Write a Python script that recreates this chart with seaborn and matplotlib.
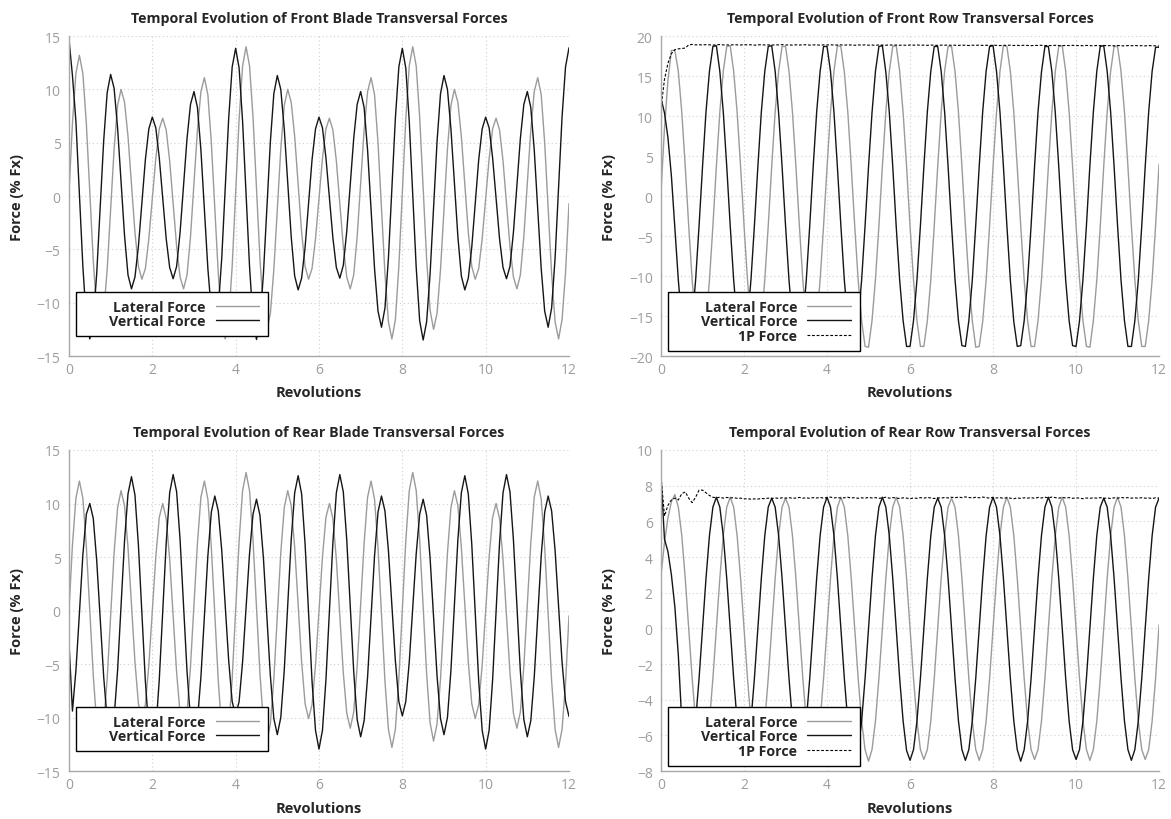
import numpy as np
import matplotlib
matplotlib.use("Agg")
import matplotlib.pyplot as plt
import seaborn as sns
from matplotlib.patches import Rectangle

# Force histories stored every 30 degrees of azimuth (12 samples per revolution)
SAMPLES_PER_REV = 12

front_blade_lateral = [
    0.3, 6.8, 11.5, 13.2,
    11.5, 6.8, 0.4, -6.1, -10.8, -12.5,
    -11.0, -6.9, -1.3, 4.4, 8.5, 10.0,
    8.8, 5.6, 1.1, -3.4, -6.6, -7.8,
    -6.8, -4.0, -0.3, 3.5, 6.3, 7.3,
    6.2, 3.3, -0.7, -4.7, -7.6, -8.7,
    -7.4, -3.8, 1.2, 6.2, 9.8, 11.1,
    9.5, 5.0, -1.2, -7.3, -11.8, -13.4,
    -11.6, -6.6, 0.3, 7.2, 12.2, 14.0,
    12.2, 7.4, 0.8, -5.9, -10.7, -12.5,
    -11.0, -6.9, -1.3, 4.4, 8.5, 10.0,
    8.8, 5.6, 1.1, -3.4, -6.6, -7.8,
    -6.8, -4.0, -0.3, 3.5, 6.3, 7.3,
    6.2, 3.3, -0.7, -4.7, -7.6, -8.7,
    -7.4, -3.8, 1.2, 6.2, 9.8, 11.1,
    9.5, 5.0, -1.2, -7.3, -11.8, -13.4,
    -11.6, -6.6, 0.3, 7.2, 12.2, 14.0,
    12.2, 7.4, 0.8, -5.9, -10.7, -12.5,
    -11.0, -6.9, -1.3, 4.4, 8.5, 10.0,
    8.8, 5.6, 1.1, -3.4, -6.6, -7.8,
    -6.8, -4.0, -0.3, 3.5, 6.3, 7.3,
    6.2, 3.3, -0.7, -4.7, -7.6, -8.7,
    -7.4, -3.8, 1.2, 6.2, 9.8, 11.1,
    9.5, 5.0, -1.2, -7.3, -11.8, -13.4,
    -11.6, -7.2, -0.7,
]

front_blade_vertical = [
    14.7, 11.3, 7.0, 0.2, -6.6, -11.6,
    -13.4, -11.7, -7.2, -1.0, 5.2, 9.7,
    11.4, 10.1, 6.4, 1.4, -3.7, -7.4,
    -8.7, -7.6, -4.7, -0.7, 3.4, 6.3,
    7.4, 6.4, 3.6, -0.2, -4.0, -6.7,
    -7.75, -6.6, -3.4, 1.0, 5.4, 8.6,
    9.8, 8.3, 4.3, -1.3, -6.8, -10.8,
    -12.3, -10.5, -5.8, 0.8, 7.3, 12.1,
    13.85, 12.0, 7.0, 0.2, -6.6, -11.6,
    -13.45, -11.8, -7.3, -1.1, 5.1, 9.6,
    11.3, 10.0, 6.3, 1.3, -3.8, -7.5,
    -8.8, -7.7, -4.8, -0.7, 3.4, 6.3,
    7.4, 6.4, 3.6, -0.2, -3.9, -6.7,
    -7.7, -6.5, -3.3, 1.1, 5.4, 8.6,
    9.8, 8.3, 4.3, -1.3, -6.8, -10.8,
    -12.3, -10.5, -5.8, 0.8, 7.3, 12.1,
    13.85, 12.0, 7.0, 0.2, -6.7, -11.7,
    -13.5, -11.8, -7.3, -1.1, 5.1, 9.6,
    11.3, 10.0, 6.3, 1.3, -3.8, -7.5,
    -8.8, -7.7, -4.8, -0.7, 3.4, 6.3,
    7.4, 6.4, 3.6, -0.2, -4.0, -6.7,
    -7.75, -6.6, -3.4, 1.0, 5.4, 8.6,
    9.8, 8.3, 4.3, -1.3, -6.8, -10.8,
    -12.3, -10.5, -5.8, 0.8, 7.4, 12.1,
    13.9,
]

front_row_lateral = [
    0.5, 8.5, 14.5, 18.2, 18.2,
    15.6, 10.5, 3.7, -3.7, -10.5, -15.6, -18.7, -18.8, -15.6, -10.5, -3.7, 3.7, 10.5, 15.6, 18.7,
    18.8, 15.6, 10.5, 3.7, -3.7, -10.5, -15.6, -18.8, -18.9, -15.6, -10.5, -3.7, 3.7, 10.5, 15.6, 18.7,
    18.7, 15.6, 10.5, 3.7, -3.7, -10.5, -15.7, -18.8, -18.8, -15.6, -10.5, -3.7, 3.6, 10.5, 15.6, 18.8,
    18.7, 15.5, 10.5, 3.7, -3.7, -10.5, -15.6, -18.8, -18.9, -15.6, -10.4, -3.7, 3.7, 10.5, 15.6, 18.7,
    18.8, 15.6, 10.4, 3.7, -3.8, -10.5, -15.6, -18.8, -18.8, -15.6, -10.5, -3.7, 3.7, 10.5, 15.6, 18.7,
    18.7, 15.6, 10.5, 3.7, -3.7, -10.5, -15.6, -18.9, -18.8, -15.7, -10.5, -3.7, 3.7, 10.4, 15.6, 18.8,
    18.7, 15.6, 10.5, 3.6, -3.7, -10.5, -15.6, -18.8, -18.8, -15.6, -10.5, -3.7, 3.7, 10.5, 15.6, 18.7,
    18.8, 15.6, 10.5, 3.7, -3.7, -10.4, -15.6, -18.8, -18.9, -15.6, -10.5, -3.8, 3.7, 10.5, 15.6, 18.7,
    18.7, 15.6, 10.5, 3.7, -3.7, -10.5, -15.6, -18.8, -18.8, -15.6, -10.5, -3.7, 4.0,
]

front_row_vertical = [
    12.2, 10.4, 7.3, 2.5, -3.9,
    -10.5, -15.6, -18.7, -18.8, -15.6, -10.5, -3.7, 3.7, 10.5, 15.6, 18.7,
    18.8, 15.6, 10.5, 3.7, -3.7, -10.5, -15.6, -18.7, -18.8, -15.6, -10.5, -3.7, 3.7, 10.5, 15.6, 18.7,
    18.8, 15.6, 10.4, 3.7, -3.7, -10.5, -15.6, -18.8, -18.8, -15.7, -10.5, -3.7, 3.7, 10.5, 15.6, 18.7,
    18.7, 15.6, 10.5, 3.6, -3.7, -10.5, -15.6, -18.7, -18.8, -15.6, -10.5, -3.7, 3.7, 10.4, 15.6, 18.7,
    18.8, 15.5, 10.5, 3.7, -3.8, -10.5, -15.6, -18.8, -18.8, -15.6, -10.5, -3.7, 3.7, 10.5, 15.6, 18.7,
    18.7, 15.6, 10.5, 3.7, -3.7, -10.4, -15.6, -18.7, -18.8, -15.6, -10.5, -3.6, 3.7, 10.5, 15.6, 18.7,
    18.8, 15.6, 10.5, 3.7, -3.7, -10.5, -15.7, -18.8, -18.7, -15.6, -10.5, -3.7, 3.7, 10.5, 15.5, 18.7,
    18.7, 15.6, 10.4, 3.7, -3.7, -10.5, -15.6, -18.7, -18.8, -15.6, -10.4, -3.7, 3.8, 10.5, 15.6, 18.7,
    18.8, 15.6, 10.5, 3.7, -3.7, -10.5, -15.6, -18.8, -18.8, -15.6, -10.5, -3.7, 3.7, 10.5, 15.6, 18.6,
    18.6,
]

front_row_1p = [
    11.0, 14.6, 16.6, 17.8, 18.3, 18.4, 18.45, 18.5, 18.9, 18.95,
    18.9, 18.92, 18.88, 18.93, 18.9, 18.87, 18.91, 18.94, 18.89, 18.9, 18.86, 18.92, 18.9, 18.88, 18.93,
    18.89, 18.91, 18.86, 18.9, 18.92, 18.88, 18.9, 18.87, 18.91, 18.89, 18.93, 18.88, 18.9, 18.86, 18.91,
    18.88, 18.9, 18.92, 18.87, 18.89, 18.91, 18.86, 18.9, 18.88, 18.92, 18.87, 18.89, 18.9, 18.86, 18.91,
    18.88, 18.85, 18.89, 18.87, 18.9, 18.86, 18.88, 18.84, 18.89, 18.87, 18.85, 18.9, 18.86, 18.88, 18.85,
    18.87, 18.84, 18.88, 18.86, 18.89, 18.85, 18.87, 18.84, 18.88, 18.86, 18.83, 18.87, 18.85, 18.88, 18.84,
    18.86, 18.83, 18.87, 18.85, 18.82, 18.86, 18.84, 18.87, 18.83, 18.85, 18.82, 18.86, 18.84, 18.81, 18.85,
    18.83, 18.86, 18.82, 18.84, 18.81, 18.85, 18.83, 18.8, 18.84, 18.82, 18.85, 18.81, 18.83, 18.8, 18.84,
    18.82, 18.79, 18.83, 18.81, 18.84, 18.8, 18.82, 18.79, 18.83, 18.81, 18.78, 18.82, 18.8, 18.83, 18.79,
    18.81, 18.78, 18.82, 18.8, 18.77, 18.81, 18.79, 18.82, 18.78, 18.8, 18.77, 18.81, 18.79, 18.78, 18.76,
]

rear_blade_lateral = [
    0.0, 6.1, 10.5, 12.1,
    10.5, 6.0, -0.1, -6.1, -10.6, -12.2,
    -10.6, -6.4, -0.5, 5.4, 9.6, 11.2,
    9.8, 5.9, 0.6, -4.8, -8.7, -10.1,
    -8.8, -5.1, -0.1, 5.0, 8.7, 10.0,
    8.6, 4.8, -0.5, -5.8, -9.6, -11.0,
    -9.5, -5.2, 0.6, 6.3, 10.6, 12.1,
    10.4, 5.9, -0.4, -6.6, -11.1, -12.8,
    -11.1, -6.4, 0.1, 6.5, 11.2, 12.9,
    11.2, 6.6, 0.4, -5.9, -10.5, -12.2,
    -10.6, -6.4, -0.5, 5.4, 9.6, 11.2,
    9.8, 5.9, 0.6, -4.8, -8.7, -10.1,
    -8.8, -5.1, -0.1, 5.0, 8.7, 10.0,
    8.6, 4.8, -0.5, -5.8, -9.6, -11.0,
    -9.5, -5.2, 0.6, 6.3, 10.6, 12.1,
    10.4, 5.9, -0.4, -6.6, -11.1, -12.8,
    -11.1, -6.4, 0.1, 6.5, 11.2, 12.9,
    11.2, 6.6, 0.4, -5.9, -10.5, -12.2,
    -10.6, -6.4, -0.5, 5.4, 9.6, 11.2,
    9.8, 5.9, 0.6, -4.8, -8.7, -10.1,
    -8.8, -5.1, -0.1, 5.0, 8.7, 10.0,
    8.6, 4.8, -0.5, -5.8, -9.6, -11.0,
    -9.5, -5.2, 0.6, 6.3, 10.6, 12.1,
    10.4, 5.9, -0.4, -6.6, -11.1, -12.8,
    -11.1, -6.8, -0.5,
]

rear_blade_vertical = [
    -3.0, -9.4, -5.6, -0.3, 5.2, 9.0,
    10.0, 8.6, 4.6, -0.8, -6.2, -10.2,
    -11.6, -10.0, -5.6, 0.5, 6.5, 10.9,
    12.5, 10.8, 6.1, -0.2, -6.6, -11.2,
    -12.95, -11.2, -6.5, -0.1, 6.3, 11.0,
    12.7, 11.1, 6.6, 0.5, -5.7, -10.2,
    -11.8, -10.3, -6.2, -0.6, 5.1, 9.2,
    10.7, 9.3, 5.6, 0.4, -4.7, -8.5,
    -9.85, -8.5, -4.8, 0.3, 5.3, 9.0,
    10.4, 8.9, 4.9, -0.6, -6.1, -10.1,
    -11.6, -10.0, -5.6, 0.5, 6.6, 11.0,
    12.6, 10.9, 6.2, -0.2, -6.6, -11.2,
    -12.95, -11.2, -6.5, -0.1, 6.3, 11.0,
    12.7, 11.1, 6.6, 0.5, -5.7, -10.2,
    -11.8, -10.3, -6.2, -0.6, 5.1, 9.2,
    10.7, 9.3, 5.6, 0.4, -4.7, -8.5,
    -9.85, -8.5, -4.8, 0.3, 5.3, 9.0,
    10.4, 8.9, 4.9, -0.6, -6.1, -10.1,
    -11.6, -10.0, -5.6, 0.5, 6.6, 11.0,
    12.6, 10.9, 6.2, -0.2, -6.6, -11.2,
    -12.95, -11.2, -6.5, -0.1, 6.3, 11.0,
    12.7, 11.1, 6.6, 0.5, -5.7, -10.2,
    -11.8, -10.3, -6.2, -0.6, 5.1, 9.2,
    10.7, 9.3, 5.6, 0.4, -4.8, -8.5,
    -9.9,
]

rear_row_lateral = [
    3.0, 4.8, 6.2, 7.1, 7.5,
    6.8, 5.2, 2.8, 0.0, -2.8, -5.2, -6.8, -7.35, -6.8, -5.2, -2.8, 0.0, 2.8, 5.2, 6.8,
    7.35, 6.8, 5.2, 2.8, 0.0, -2.8, -5.2, -6.8, -7.4, -6.8, -5.2, -2.8, 0.0, 2.8, 5.2, 6.8,
    7.3, 6.8, 5.2, 2.8, 0.0, -2.8, -5.2, -6.8, -7.35, -6.8, -5.2, -2.8, 0.0, 2.8, 5.2, 6.8,
    7.35, 6.8, 5.2, 2.8, 0.0, -2.8, -5.2, -6.8, -7.45, -6.8, -5.2, -2.8, 0.0, 2.8, 5.2, 6.8,
    7.35, 6.8, 5.2, 2.8, 0.0, -2.8, -5.2, -6.8, -7.35, -6.8, -5.2, -2.8, 0.0, 2.8, 5.2, 6.8,
    7.3, 6.8, 5.2, 2.8, 0.0, -2.8, -5.2, -6.8, -7.4, -6.8, -5.2, -2.8, 0.0, 2.8, 5.2, 6.8,
    7.35, 6.8, 5.2, 2.8, 0.0, -2.8, -5.2, -6.8, -7.35, -6.8, -5.2, -2.8, 0.0, 2.8, 5.2, 6.8,
    7.35, 6.8, 5.2, 2.8, 0.0, -2.8, -5.2, -6.8, -7.4, -6.8, -5.2, -2.8, 0.0, 2.8, 5.2, 6.8,
    7.35, 6.8, 5.2, 2.8, 0.0, -2.8, -5.2, -6.8, -7.35, -6.8, -5.2, -2.8, 0.2,
]

rear_row_vertical = [
    8.5, 5.0, 4.3, 3.0, 1.2, -1.5,
    -5.2, -6.8, -7.35, -6.8, -5.2, -2.8, 0.0, 2.8, 5.2, 6.8,
    7.35, 6.8, 5.2, 2.8, 0.0, -2.8, -5.2, -6.8, -7.35, -6.8, -5.2, -2.8, 0.0, 2.8, 5.2, 6.8,
    7.3, 6.8, 5.2, 2.8, 0.0, -2.8, -5.2, -6.8, -7.35, -6.8, -5.2, -2.8, 0.0, 2.8, 5.2, 6.8,
    7.35, 6.8, 5.2, 2.8, 0.0, -2.8, -5.2, -6.8, -7.35, -6.8, -5.2, -2.8, 0.0, 2.8, 5.2, 6.8,
    7.35, 6.8, 5.2, 2.8, 0.0, -2.8, -5.2, -6.85, -7.4, -6.8, -5.2, -2.8, 0.0, 2.8, 5.2, 6.8,
    7.3, 6.8, 5.2, 2.8, 0.0, -2.8, -5.2, -6.8, -7.4, -6.8, -5.2, -2.8, 0.0, 2.8, 5.2, 6.8,
    7.35, 6.8, 5.2, 2.8, 0.0, -2.8, -5.2, -6.8, -7.45, -6.8, -5.2, -2.8, 0.0, 2.8, 5.2, 6.8,
    7.35, 6.8, 5.2, 2.8, 0.0, -2.8, -5.2, -6.8, -7.35, -6.8, -5.2, -2.8, 0.0, 2.8, 5.2, 6.8,
    7.3, 6.8, 5.2, 2.8, 0.0, -2.8, -5.2, -6.8, -7.4, -6.8, -5.2, -2.8, 0.0, 2.8, 5.2, 6.8,
    7.3,
]

rear_row_1p = [
    8.5, 6.3, 6.9, 7.2, 7.3, 7.2, 7.55, 7.65, 7.3, 7.05, 7.35, 7.75, 7.75, 7.6, 7.45, 7.35,
    7.32, 7.35, 7.3, 7.34, 7.31, 7.33, 7.29, 7.3, 7.26, 7.27, 7.24, 7.26, 7.25, 7.28, 7.27,
    7.3, 7.28, 7.31, 7.29, 7.32, 7.3, 7.33, 7.29, 7.31, 7.34, 7.3, 7.32, 7.29, 7.33, 7.31,
    7.34, 7.3, 7.33, 7.36, 7.31, 7.34, 7.3, 7.32, 7.35, 7.31, 7.33, 7.29, 7.32, 7.3, 7.34,
    7.31, 7.33, 7.29, 7.32, 7.35, 7.3, 7.33, 7.31, 7.28, 7.32, 7.3, 7.27, 7.31, 7.29, 7.33,
    7.3, 7.34, 7.31, 7.28, 7.32, 7.3, 7.34, 7.31, 7.35, 7.32, 7.36, 7.33, 7.37, 7.34, 7.31,
    7.35, 7.32, 7.36, 7.33, 7.3, 7.34, 7.31, 7.33, 7.29, 7.32, 7.3, 7.27, 7.31, 7.29, 7.32,
    7.3, 7.33, 7.29, 7.34, 7.31, 7.35, 7.32, 7.36, 7.33, 7.3, 7.34, 7.31, 7.33, 7.29, 7.32,
    7.3, 7.27, 7.31, 7.29, 7.32, 7.3, 7.33, 7.29, 7.31, 7.28, 7.32, 7.3, 7.34, 7.31, 7.33,
    7.3, 7.32, 7.29, 7.33, 7.3, 7.31, 7.28, 7.32, 7.3,
]

panel_titles = [
    "Temporal Evolution of Front Blade Transversal Forces",
    "Temporal Evolution of Front Row Transversal Forces",
    "Temporal Evolution of Rear Blade Transversal Forces",
    "Temporal Evolution of Rear Row Transversal Forces",
]
series_labels = ["Lateral Force", "Vertical Force", "1P Force"]
x_ticks = [0, 2, 4, 6, 8, 10, 12]
blade_y_ticks = [-15, -10, -5, 0, 5, 10, 15]
front_row_y_ticks = [-20, -15, -10, -5, 0, 5, 10, 15, 20]
rear_row_y_ticks = [-8, -6, -4, -2, 0, 2, 4, 6, 8, 10]

LATERAL_COLOR = "#9b9b9b"
VERTICAL_COLOR = "#151515"
ONE_P_COLOR = "#000000"
AXIS_GRAY = "#a8a8a8"
TICK_GRAY = "#9d9d9d"

sns.set_theme(style="white")
plt.rcParams["font.family"] = ["Open Sans", "DejaVu Sans"]


def revolutions(values):
    return np.arange(len(values)) / SAMPLES_PER_REV


def draw_panel(ax, title, lateral, vertical, one_p, y_ticks):
    sns.lineplot(x=revolutions(lateral), y=lateral, ax=ax, color=LATERAL_COLOR,
                 linewidth=1.0, label=series_labels[0])
    sns.lineplot(x=revolutions(vertical), y=vertical, ax=ax, color=VERTICAL_COLOR,
                 linewidth=1.0, label=series_labels[1])
    if one_p is not None:
        sns.lineplot(x=revolutions(one_p), y=one_p, ax=ax, color=ONE_P_COLOR,
                     linewidth=0.8, linestyle=(0, (2.5, 1.6)), label=series_labels[2])

    ax.set_xlim(x_ticks[0], x_ticks[-1])
    ax.set_ylim(y_ticks[0], y_ticks[-1])
    ax.set_xticks(x_ticks)
    ax.set_yticks(y_ticks)

    ax.grid(True, color="#cfcfcf", linestyle=(0, (1, 2.5)), linewidth=0.8)
    ax.set_axisbelow(True)
    for side in ("top", "right"):
        ax.spines[side].set_visible(False)
    for side in ("left", "bottom"):
        ax.spines[side].set_color(AXIS_GRAY)
        ax.spines[side].set_linewidth(1.0)
    ax.tick_params(axis="both", length=0, labelsize=10, labelcolor=TICK_GRAY)
    ax.tick_params(axis="x", pad=4)
    ax.tick_params(axis="y", pad=6)

    ax.set_title(title, fontsize=10.3, fontweight="bold", pad=10)
    ax.set_xlabel("Revolutions", fontsize=10.5, fontweight="bold")
    ax.set_ylabel("Force (% Fx)", fontsize=10.5, fontweight="bold")
    ax.xaxis.set_label_coords(0.5, -0.092)
    ax.yaxis.set_label_coords(-0.09, 0.5)

    # opaque key box in the lower-left corner, entries right-aligned against it
    n_rows = 3 if one_p is not None else 2
    if n_rows == 2:
        x0, y0, w, h = 0.015, 0.0625, 0.384, 0.1375
    else:
        x0, y0, w, h = 0.015, 0.0165, 0.385, 0.1835
    ax.add_patch(Rectangle((x0, y0), w, h, transform=ax.transAxes,
                           facecolor="white", edgecolor="black", linewidth=1.0,
                           zorder=4))
    handles, labels = ax.get_legend_handles_labels()
    leg = ax.legend(handles, labels, loc="center right",
                    bbox_to_anchor=(x0 + w - 0.018, y0 + h / 2),
                    bbox_transform=ax.transAxes, frameon=False, markerfirst=False,
                    handlelength=3.1, handletextpad=0.7, labelspacing=0.05,
                    borderpad=0.0, borderaxespad=0.0,
                    prop={"weight": "bold", "size": 10.2})
    leg.set_zorder(5)


fig = plt.figure(figsize=(11.71, 8.2), dpi=100)
ax_fb = fig.add_axes([0.0589, 0.5646, 0.4270, 0.3902])
ax_fr = fig.add_axes([0.5645, 0.5646, 0.4253, 0.3902])
ax_rb = fig.add_axes([0.0589, 0.0585, 0.4270, 0.3915])
ax_rr = fig.add_axes([0.5645, 0.0585, 0.4253, 0.3915])

draw_panel(ax_fb, panel_titles[0], front_blade_lateral, front_blade_vertical, None, blade_y_ticks)
draw_panel(ax_fr, panel_titles[1], front_row_lateral, front_row_vertical, front_row_1p, front_row_y_ticks)
draw_panel(ax_rb, panel_titles[2], rear_blade_lateral, rear_blade_vertical, None, blade_y_ticks)
draw_panel(ax_rr, panel_titles[3], rear_row_lateral, rear_row_vertical, rear_row_1p, rear_row_y_ticks)

fig.savefig("out.png", dpi=100, facecolor="white")
